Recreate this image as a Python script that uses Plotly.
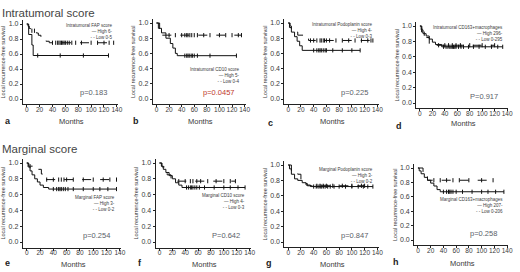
import plotly.graph_objects as go

W, H = 520, 272

# ---------------- data (step times / survival after step / censor times) --------------
months_ticks = [0, 20, 40, 60, 80, 100, 120, 140]
surv_ticks = [0.0, 0.2, 0.4, 0.6, 0.8, 1.0]

# a  Intratumoral FAP
a_high_t = [0, 3, 8, 10]
a_high_s = [1.0, 0.86, 0.72, 0.58]
a_high_end = 127
a_high_c = [17, 52, 88, 127]
a_low_t = [0, 2, 4, 6, 15, 18, 22, 26, 30, 35]
a_low_s = [1.0, 0.97, 0.94, 0.91, 0.88, 0.85, 0.82, 0.79, 0.77, 0.75]
a_low_end = 135
a_low_c = [8, 12, 40, 45, 48, 50, 52, 54, 56, 58, 60, 63, 66, 70, 76, 85, 100, 110, 120, 128, 135]

# b  Intratumoral CD10
b_high_t = [0, 3, 8, 15, 22, 26, 30, 33]
b_high_s = [1.0, 0.93, 0.87, 0.80, 0.73, 0.67, 0.60, 0.57]
b_high_end = 127
b_high_c = [45, 48, 50, 52, 55, 57, 60, 65, 85, 127]
b_low_t = [0, 5, 8]
b_low_s = [1.0, 0.92, 0.84]
b_low_end = 135
b_low_c = [20, 30, 40, 45, 48, 50, 53, 56, 60, 65, 75, 85, 100, 110, 120, 130, 135]

# c  Intratumoral Podoplanin
c_high_t = [0, 2, 5, 10, 14, 18, 22]
c_high_s = [1.0, 0.94, 0.88, 0.82, 0.76, 0.70, 0.64]
c_high_end = 113
c_high_c = [40, 45, 48, 50, 52, 55, 58, 60, 70, 85, 100, 113]
c_low_t = [0, 3, 5, 10, 15, 25, 32]
c_low_s = [1.0, 0.96, 0.92, 0.88, 0.84, 0.80, 0.77]
c_low_end = 133
c_low_c = [35, 40, 45, 50, 52, 55, 57, 60, 65, 75, 85, 95, 105, 115, 125, 130, 133]

# d  Intratumoral CD163+macrophages
d_high_t = [0, 2, 5, 10, 15, 20, 25, 35]
d_high_s = [1.0, 0.95, 0.90, 0.87, 0.83, 0.79, 0.76, 0.73]
d_high_end = 133
d_high_c = [3, 7, 38, 42, 45, 48, 50, 52, 54, 56, 58, 62, 66, 70, 78, 86, 95, 105, 115, 125, 133]
d_low_t = [0, 3, 8, 15]
d_low_s = [1.0, 0.92, 0.85, 0.75]
d_low_end = 120
d_low_c = [30, 40, 46, 52, 58, 65, 80, 100, 120]

# e  Marginal FAP
e_high_t = [0, 2, 5, 8, 12, 16, 20, 25, 33]
e_high_s = [1.0, 0.95, 0.90, 0.85, 0.80, 0.76, 0.72, 0.69, 0.67]
e_high_end = 135
e_high_c = [40, 45, 48, 50, 52, 55, 58, 62, 70, 85, 100, 110, 122, 135]
e_low_t = [0, 3, 12, 22, 27]
e_low_s = [1.0, 0.96, 0.92, 0.86, 0.79]
e_low_end = 135
e_low_c = [5, 30, 40, 48, 52, 56, 60, 70, 85, 100, 115, 125, 135]

# f  Marginal CD10
f_high_t = [0, 3, 6, 10, 15, 20, 25, 30, 35]
f_high_s = [1.0, 0.96, 0.92, 0.88, 0.84, 0.80, 0.75, 0.72, 0.69]
f_high_end = 133
f_high_c = [42, 45, 48, 50, 52, 55, 58, 62, 70, 85, 100, 110, 122, 133]
f_low_t = [0, 4, 8, 12, 18, 22]
f_low_s = [1.0, 0.95, 0.90, 0.85, 0.80, 0.77]
f_low_end = 118
f_low_c = [30, 40, 48, 52, 58, 64, 75, 88, 100, 110, 118]

# g  Marginal Podoplanin
g_high_t = [0, 2, 5, 10, 15, 22, 28, 35]
g_high_s = [1.0, 0.95, 0.88, 0.82, 0.80, 0.77, 0.74, 0.72]
g_high_end = 133
g_high_c = [40, 44, 47, 50, 52, 55, 58, 62, 66, 72, 80, 90, 100, 110, 118, 125, 133]
g_low_t = [0, 5, 15, 20, 25, 30]
g_low_s = [1.0, 0.92, 0.88, 0.80, 0.76, 0.73]
g_low_end = 120
g_low_c = [45, 50, 55, 60, 70, 85, 100, 115, 120]

# h  Marginal CD163+macrophages
h_high_t = [0, 2, 5, 10, 15, 20, 25, 30, 35]
h_high_s = [1.0, 0.96, 0.92, 0.87, 0.83, 0.79, 0.75, 0.70, 0.67]
h_high_end = 135
h_high_c = [40, 45, 48, 50, 52, 55, 60, 70, 85, 100, 110, 122, 135]
h_low_t = [0, 8, 15]
h_low_s = [1.0, 0.93, 0.83]
h_low_end = 118
h_low_c = [25, 35, 45, 55, 65, 80, 100, 118]

panel_letters = ["a", "b", "c", "d", "e", "f", "g", "h"]
legend_titles = ["Intratumoral FAP score", "Intratumoral CD10 score",
                 "Intratumoral Podoplanin score", "Intratumoral CD163+macrophages",
                 "Marginal FAP score", "Marginal CD10 score",
                 "Marginal Podoplanin score", "Marginal CD163+macrophages"]
high_labels = ["High 6-", "High 5-", "High 4-", "High 296-", "High 3-", "High 4-", "High 3-", "High 207-"]
low_labels = ["Low 0-5", "Low 0-4", "Low 0-3", "Low 0-295", "Low 0-2", "Low 0-3", "Low 0-2", "Low 0-206"]
p_values = ["p=0.183", "p=0.0457", "p=0.225", "P=0.917", "p=0.254", "P=0.642", "p=0.847", "p=0.258"]
row_titles = ["Intratumoral score", "Marginal score"]
x_title = "Months"
y_title = "Local recurrence-free survival"

curves = [
    (a_high_t, a_high_s, a_high_end, a_high_c, a_low_t, a_low_s, a_low_end, a_low_c),
    (b_high_t, b_high_s, b_high_end, b_high_c, b_low_t, b_low_s, b_low_end, b_low_c),
    (c_high_t, c_high_s, c_high_end, c_high_c, c_low_t, c_low_s, c_low_end, c_low_c),
    (d_high_t, d_high_s, d_high_end, d_high_c, d_low_t, d_low_s, d_low_end, d_low_c),
    (e_high_t, e_high_s, e_high_end, e_high_c, e_low_t, e_low_s, e_low_end, e_low_c),
    (f_high_t, f_high_s, f_high_end, f_high_c, f_low_t, f_low_s, f_low_end, f_low_c),
    (g_high_t, g_high_s, g_high_end, g_high_c, g_low_t, g_low_s, g_low_end, g_low_c),
    (h_high_t, h_high_s, h_high_end, h_high_c, h_low_t, h_low_s, h_low_end, h_low_c),
]

# ---------------- layout geometry (pixels) ----------------
# (px of x=0, px of x=140, py of y=1.0, py of y=0.0)
geom = [(27, 118, 24, 99), (158, 247, 23, 99), (291, 381, 23, 99), (424, 512, 26, 103),
        (27, 121, 163, 242), (161, 252, 163, 242), (291, 381, 165, 242), (422, 512, 168, 240)]
# legend block: right edge (data x), top (data y)
legend_pos = [(136, 1.04), (136, 0.45), (136, 1.04), (136, 1.04),
              (136, 0.62), (136, 0.64), (136, 1.0), (136, 0.62)]
letter_pos = [(3, 121), (132, 121), (269, 123), (398, 126),
              (3, 263), (137, 263), (267, 263), (395, 262)]
months_y = [122, 122, 121, 124, 264, 264, 264, 263]
XR = [-6, 142]
YR = [-0.07, 1.05]

TXT = "#3a3a3a"
FONT = "Arial, Liberation Sans, sans-serif"


def step_val(t, s, x):
    v = s[0]
    for ti, si in zip(t, s):
        if x >= ti:
            v = si
    return v


fig = go.Figure()
layout = {}
annotations = []

for i in range(8):
    n = "" if i == 0 else str(i + 1)
    xa, ya = "x" + n, "y" + n
    x0p, x140p, y1p, y0p = geom[i]
    kx = (x140p - x0p) / 140.0
    ky = (y0p - y1p) / 1.0
    left = x0p + (XR[0]) * kx
    right = x0p + (XR[1]) * kx
    top = y0p - YR[1] * ky
    bottom = y0p - YR[0] * ky
    layout["xaxis" + n] = dict(
        domain=[left / W, right / W], range=XR, anchor=ya, tickvals=months_ticks,
        tickangle=0, showline=True, linecolor="#222", linewidth=1, ticks="outside", ticklen=2,
        tickcolor="#222", tickfont=dict(size=6.5, color=TXT), showgrid=False, zeroline=False,
        ticklabelstandoff=-3,
    )
    layout["yaxis" + n] = dict(
        domain=[1 - bottom / H, 1 - top / H], range=YR, anchor=xa, tickvals=surv_ticks,
        tickformat=".1f", showline=True, linecolor="#222", linewidth=1, ticks="outside",
        ticklen=2, tickcolor="#222", tickfont=dict(size=7, color=TXT), showgrid=False,
        zeroline=False,
        title=dict(text=y_title, font=dict(size=5.5, color=TXT), standoff=2),
    )
    ht, hs, hend, hc, lt, ls, lend, lc = curves[i]
    for (t, s, end, c, dash) in [(lt, ls, lend, lc, "dash"), (ht, hs, hend, hc, "solid")]:
        fig.add_trace(go.Scatter(
            x=t + [end], y=s + [s[-1]], mode="lines", line=dict(color="#111", width=1, dash=dash, shape="hv"),
            xaxis=xa, yaxis=ya, showlegend=False, hoverinfo="skip"))
        fig.add_trace(go.Scatter(
            x=c, y=[step_val(t, s, v) for v in c], mode="markers",
            marker=dict(symbol="line-ns", size=3, line=dict(color="#111", width=1)),
            xaxis=xa, yaxis=ya, showlegend=False, hoverinfo="skip"))
    # legend block
    lx, ly = legend_pos[i]
    annotations.append(dict(
        xref=xa, yref=ya, x=lx, y=ly, xanchor="right", yanchor="top",
        align="right", showarrow=False,
        text=legend_titles[i] + "<br>\u2014 " + high_labels[i] + "<br>- - " + low_labels[i],
        font=dict(size=4.5, color=TXT, family=FONT)))
    # p value
    annotations.append(dict(
        xref=xa, yref=ya, x=128, y=0.0, xanchor="right", yanchor="bottom", showarrow=False,
        text=p_values[i], font=dict(size=7.5, color="#c0392b" if i == 1 else "#5a6068", family=FONT)))
    # x title
    annotations.append(dict(
        xref=xa, yref="paper", x=70, y=1 - months_y[i] / H, xanchor="center", yanchor="middle",
        showarrow=False, text=x_title, font=dict(size=7.5, color=TXT, family=FONT)))
    # panel letter
    lpx, lpy = letter_pos[i]
    annotations.append(dict(
        xref="paper", yref="paper", x=lpx / W, y=1 - lpy / H, xanchor="left", yanchor="middle",
        showarrow=False, text="<b>" + panel_letters[i] + "</b>",
        font=dict(size=9, color="#222", family=FONT)))

annotations.append(dict(xref="paper", yref="paper", x=0.0, y=1 - 13 / H, xanchor="left", yanchor="middle",
                        showarrow=False, text=row_titles[0], font=dict(size=11.5, color="#444", family=FONT)))
annotations.append(dict(xref="paper", yref="paper", x=0.0, y=1 - 149 / H, xanchor="left", yanchor="middle",
                        showarrow=False, text=row_titles[1], font=dict(size=11.5, color="#444", family=FONT)))

fig.update_layout(**layout)
fig.update_layout(
    width=W, height=H, autosize=False, margin=dict(l=0, r=0, t=0, b=0),
    paper_bgcolor="white", plot_bgcolor="white", font=dict(family=FONT, color=TXT),
    annotations=annotations, showlegend=False,
)
fig.write_html("out.html", config={"displayModeBar": False},
               post_script="document.body.style.margin='0';document.body.style.overflow='hidden';")
